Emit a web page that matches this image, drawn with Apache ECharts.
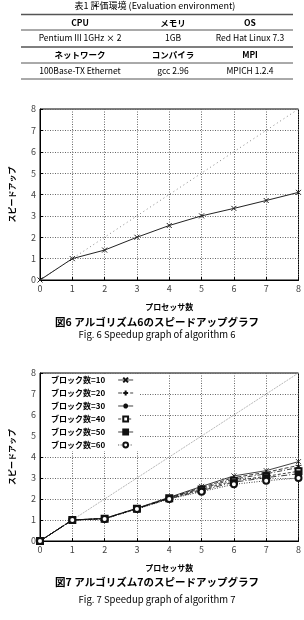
<!DOCTYPE html>
<html>
<head>
    <meta charset="utf-8">
    <title></title>
    <script src="https://cdn.jsdelivr.net/npm/echarts@6/dist/echarts.min.js"></script>
    <style>
        html, body { margin: 0; padding: 0; background: #fff; }
        #main { width: 304px; height: 620px; }
    </style>
</head>
<body>
<div id="main"></div>
<script type="text/javascript">
    // プロセッサ数
    var procs = [0, 1, 2, 3, 4, 5, 6, 7, 8];
    var ideal = [0, 1, 2, 3, 4, 5, 6, 7, 8];
    // 図6
    var speedup6 = [0, 1, 1.4, 2.0, 2.55, 3.0, 3.35, 3.72, 4.1];
    // 図7 ブロック数別
    var blockNames = ['ブロック数=10', 'ブロック数=20', 'ブロック数=30', 'ブロック数=40', 'ブロック数=50', 'ブロック数=60'];
    var blk10 = [0, 1, 1.08, 1.56, 2.08, 2.6, 3.1, 3.35, 3.78];
    var blk20 = [0, 1, 1.07, 1.55, 2.06, 2.55, 3.02, 3.27, 3.6];
    var blk30 = [0, 1, 1.07, 1.55, 2.05, 2.5, 2.95, 3.2, 3.5];
    var blk40 = [0, 1, 1.06, 1.54, 2.03, 2.45, 2.87, 3.08, 3.32];
    var blk50 = [0, 1, 1.06, 1.54, 2.01, 2.4, 2.8, 3.02, 3.2];
    var blk60 = [0, 1, 1.05, 1.52, 2.0, 2.35, 2.7, 2.87, 3.0];
    var tableRows = [
        ['CPU', 'メモリ', 'OS'],
        ['Pentium III 1GHz × 2', '1GB', 'Red Hat Linux 7.3'],
        ['ネットワーク', 'コンパイラ', 'MPI'],
        ['100Base-TX Ethernet', 'gcc 2.96', 'MPICH 1.2.4']
    ];

    var font = '"Noto Sans CJK JP", "DejaVu Sans", sans-serif';
    var chart = echarts.init(document.getElementById('main'));

    function pairs(ys) {
        return procs.map(function (x, i) { return [x, ys[i]]; });
    }

    var crossPath = 'path://M0,0L10,10M10,0L0,10';
    var plusPath = 'path://M5,0L5,10M0,5L10,5';
    var starPath = 'path://M5,0L5,10M0,5L10,5M1.5,1.5L8.5,8.5M8.5,1.5L1.5,8.5';

    // 表
    var graphics = [];
    var colX = [80, 173, 250];
    var rowY = [23, 38, 55, 71];
    var ruleY = [14.5, 30, 47, 63, 79];
    graphics.push({
        type: 'text', x: 155, y: 6,
        style: { text: '表1 評価環境 (Evaluation environment)', align: 'center', verticalAlign: 'middle', font: '9px ' + font, fill: '#000' }
    });
    ruleY.forEach(function (y, i) {
        graphics.push({
            type: 'line',
            shape: { x1: 21, y1: y, x2: 293, y2: y },
            style: { stroke: '#555', lineWidth: (i === 0 || i === 2) ? 1.5 : 1 }
        });
    });
    tableRows.forEach(function (row, r) {
        row.forEach(function (t, c) {
            graphics.push({
                type: 'text', x: colX[c], y: rowY[r],
                style: {
                    text: t, align: 'center', verticalAlign: 'middle',
                    font: (r % 2 === 0 ? 'bold ' : '') + '8.5px ' + font, fill: '#000'
                }
            });
        });
    });
    // キャプション
    graphics.push({ type: 'text', x: 157, y: 322, style: { text: '図6 アルゴリズム6のスピードアップグラフ', align: 'center', verticalAlign: 'middle', font: 'bold 10.5px ' + font, fill: '#000' } });
    graphics.push({ type: 'text', x: 157, y: 334, style: { text: 'Fig. 6 Speedup graph of algorithm 6', align: 'center', verticalAlign: 'middle', font: '9.5px ' + font, fill: '#000' } });
    graphics.push({ type: 'text', x: 157, y: 582, style: { text: '図7 アルゴリズム7のスピードアップグラフ', align: 'center', verticalAlign: 'middle', font: 'bold 10.5px ' + font, fill: '#000' } });
    graphics.push({ type: 'text', x: 157, y: 599, style: { text: 'Fig. 7 Speedup graph of algorithm 7', align: 'center', verticalAlign: 'middle', font: '9.5px ' + font, fill: '#000' } });

    function xAxisOf(idx) {
        return {
            type: 'value', gridIndex: idx, min: 0, max: 8, interval: 1,
            name: 'プロセッサ数', nameLocation: 'middle', nameGap: 23,
            nameTextStyle: { fontFamily: font, fontSize: 8, fontWeight: 'bold', color: '#000' },
            axisLine: { lineStyle: { color: '#000', width: 1 } },
            axisTick: { inside: true, length: 3, lineStyle: { color: '#000' } },
            axisLabel: { fontSize: 9, color: '#444', fontFamily: font, margin: 4 },
            splitLine: { show: true, lineStyle: { color: '#666', type: [1, 1.5], width: 1 } }
        };
    }
    function yAxisOf(idx) {
        return {
            type: 'value', gridIndex: idx, min: 0, max: 8, interval: 1,
            name: 'スピードアップ', nameLocation: 'middle', nameGap: 24, nameRotate: 90,
            nameTextStyle: { fontFamily: font, fontSize: 8, fontWeight: 'bold', color: '#000' },
            axisLine: { show: true, lineStyle: { color: '#000', width: 1 } },
            axisTick: { inside: true, length: 3, lineStyle: { color: '#000' } },
            axisLabel: { fontSize: 9, color: '#444', fontFamily: font, margin: 4 },
            splitLine: { show: true, lineStyle: { color: '#666', type: [1, 1.5], width: 1 } }
        };
    }

    var blockData = [blk10, blk20, blk30, blk40, blk50, blk60];
    var blockSymbols = [crossPath, plusPath, starPath, 'emptyRect', 'rect', 'emptyCircle'];
    var blockSizes = [5, 6, 5, 6, 6, 6];
    var blockLines = ['solid', [4, 2], [5, 2, 1, 2], [3, 2], [6, 2, 1, 2], [1, 1.5]];

    var series = [
        {
            type: 'line', xAxisIndex: 0, yAxisIndex: 0, data: pairs(ideal),
            symbol: 'none', silent: true,
            lineStyle: { color: '#888', width: 1, type: [1, 3] }
        },
        {
            type: 'line', xAxisIndex: 0, yAxisIndex: 0, data: pairs(speedup6),
            symbol: crossPath, symbolSize: 5,
            lineStyle: { color: '#222', width: 1 },
            itemStyle: { color: '#222', borderColor: '#222', borderWidth: 1 }
        },
        {
            type: 'line', xAxisIndex: 1, yAxisIndex: 1, data: pairs(ideal),
            symbol: 'none', silent: true,
            lineStyle: { color: '#999', width: 0.7, type: [2, 1] }
        }
    ];
    blockData.forEach(function (d, i) {
        series.push({
            name: blockNames[i],
            type: 'line', xAxisIndex: 1, yAxisIndex: 1, data: pairs(d),
            symbol: blockSymbols[i], symbolSize: blockSizes[i],
            lineStyle: { color: '#111', width: 0.8, type: blockLines[i] },
            itemStyle: { color: '#111', borderColor: '#111', borderWidth: 0.8 }
        });
    });

    var option = {
        animation: false,
        backgroundColor: '#fff',
        grid: [
            { left: 40, top: 109, width: 263, height: 171, show: true, borderColor: '#000', borderWidth: 1 },
            { left: 40, top: 373, width: 263, height: 168, show: true, borderColor: '#000', borderWidth: 1 }
        ],
        xAxis: [xAxisOf(0), xAxisOf(1)],
        yAxis: [yAxisOf(0), yAxisOf(1)],
        legend: {
            data: blockNames,
            orient: 'vertical', left: 41, top: 374,
            align: 'right', itemGap: 5, itemWidth: 15, itemHeight: 6,
            backgroundColor: '#fff',
            padding: [2, 6, 2, 10],
            lineStyle: { width: 0.8 },
            textStyle: { fontFamily: font, fontSize: 8, fontWeight: 'bold', color: '#000', padding: [0, 8, 0, 0] }
        },
        graphic: graphics,
        series: series
    };
    chart.setOption(option);
</script>
</body>
</html>
